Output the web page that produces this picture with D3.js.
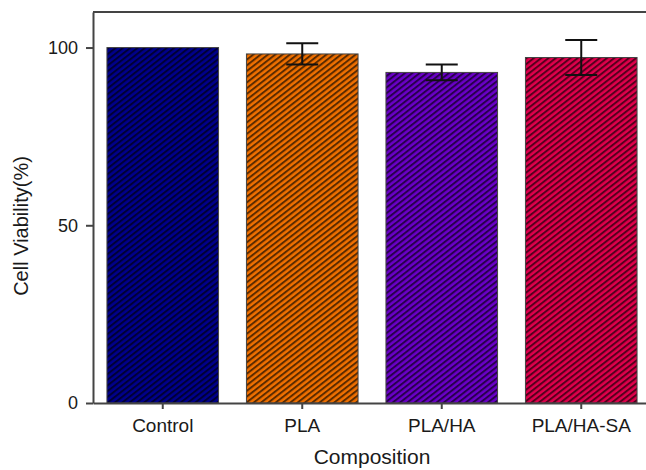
<!DOCTYPE html>
<html>
<head>
<meta charset="utf-8">
<script src="https://cdn.jsdelivr.net/npm/d3@7"></script>
<style>
  body { margin: 0; background: #fff; }
  text { font-family: Arial, "Liberation Sans", sans-serif; }
</style>
</head>
<body>
<div id="chart"></div>
<script>
var width = 646,
  height = 470;

// data
var categories = ['Control', 'PLA', 'PLA/HA', 'PLA/HA-SA'];
var viability = [100, 98.2, 93.0, 97.2];
var errors = [0, 3.0, 2.2, 4.9];
var yTicks = [0, 50, 100];

var fills = ['#00008c', '#f07000', '#6a00c8', '#e0004c'];

var svg = d3.select('#chart')
  .append('svg')
  .attr('width', width)
  .attr('height', height);

var x = d3.scaleBand()
  .domain(categories)
  .range([93, 651])
  .paddingInner(0.2)
  .paddingOuter(0.1);

var y = d3.scaleLinear()
  .domain([0, 110])
  .range([403, 12]);

// hatch patterns, one per bar colour
var defs = svg.append('defs');
fills.forEach(function(c, i) {
  var p = defs.append('pattern')
    .attr('id', 'hatch' + i)
    .attr('patternUnits', 'userSpaceOnUse')
    .attr('width', 4.5)
    .attr('height', 4.5)
    .attr('patternTransform', 'rotate(-38)');
  p.append('rect')
    .attr('width', 4.5)
    .attr('height', 4.5)
    .attr('fill', c);
  p.append('rect')
    .attr('y', 0)
    .attr('width', 4.5)
    .attr('height', 2)
    .attr('fill', '#000')
    .attr('opacity', 0.62);
});

// bars
svg.append('g')
  .selectAll('rect')
  .data(categories)
  .join('rect')
  .attr('x', d => x(d))
  .attr('y', (d, i) => y(viability[i]))
  .attr('width', x.bandwidth())
  .attr('height', (d, i) => y(0) - y(viability[i]))
  .attr('fill', (d, i) => 'url(#hatch' + i + ')')
  .attr('stroke', '#444')
  .attr('stroke-width', 1);

// error bars
var eb = svg.append('g')
  .attr('stroke', '#111')
  .attr('stroke-width', 2)
  .selectAll('g')
  .data(categories.filter((d, i) => errors[i] > 0))
  .join('g');

function errHi(d) { var i = categories.indexOf(d); return y(viability[i] + errors[i]); }
function errLo(d) { var i = categories.indexOf(d); return y(viability[i] - errors[i]); }
function mid(d) { return x(d) + x.bandwidth() / 2; }

eb.append('line')
  .attr('x1', mid).attr('x2', mid)
  .attr('y1', errHi).attr('y2', errLo);
eb.append('line')
  .attr('x1', d => mid(d) - 16).attr('x2', d => mid(d) + 16)
  .attr('y1', errHi).attr('y2', errHi);
eb.append('line')
  .attr('x1', d => mid(d) - 16).attr('x2', d => mid(d) + 16)
  .attr('y1', errLo).attr('y2', errLo);

// top frame line
svg.append('line')
  .attr('x1', 93)
  .attr('x2', 651)
  .attr('y1', 12)
  .attr('y2', 12)
  .attr('stroke', '#444')
  .attr('stroke-width', 2);

// axes
var yAxis = svg.append('g')
  .attr('transform', 'translate(93,0)')
  .call(d3.axisLeft(y).tickValues(yTicks).tickSize(7).tickPadding(8).tickSizeOuter(0));
var xAxis = svg.append('g')
  .attr('transform', 'translate(0,403)')
  .call(d3.axisBottom(x).tickSize(6).tickPadding(10).tickSizeOuter(0));

[yAxis, xAxis].forEach(function(a) {
  a.attr('font-family', 'Arial, "Liberation Sans", sans-serif');
  a.select('.domain').attr('stroke', '#444').attr('stroke-width', 2);
  a.selectAll('.tick line').attr('stroke', '#444').attr('stroke-width', 2);
  a.selectAll('.tick text').attr('fill', '#1a1a1a');
});
yAxis.attr('font-size', 18);
xAxis.attr('font-size', 19);

// axis titles
svg.append('text')
  .attr('transform', 'translate(28,226) rotate(-90)')
  .attr('text-anchor', 'middle')
  .attr('font-size', 20)
  .attr('fill', '#1a1a1a')
  .text('Cell Viability(%)');

svg.append('text')
  .attr('x', 372)
  .attr('y', 464)
  .attr('text-anchor', 'middle')
  .attr('font-size', 21)
  .attr('fill', '#1a1a1a')
  .text('Composition');
</script>
</body>
</html>
